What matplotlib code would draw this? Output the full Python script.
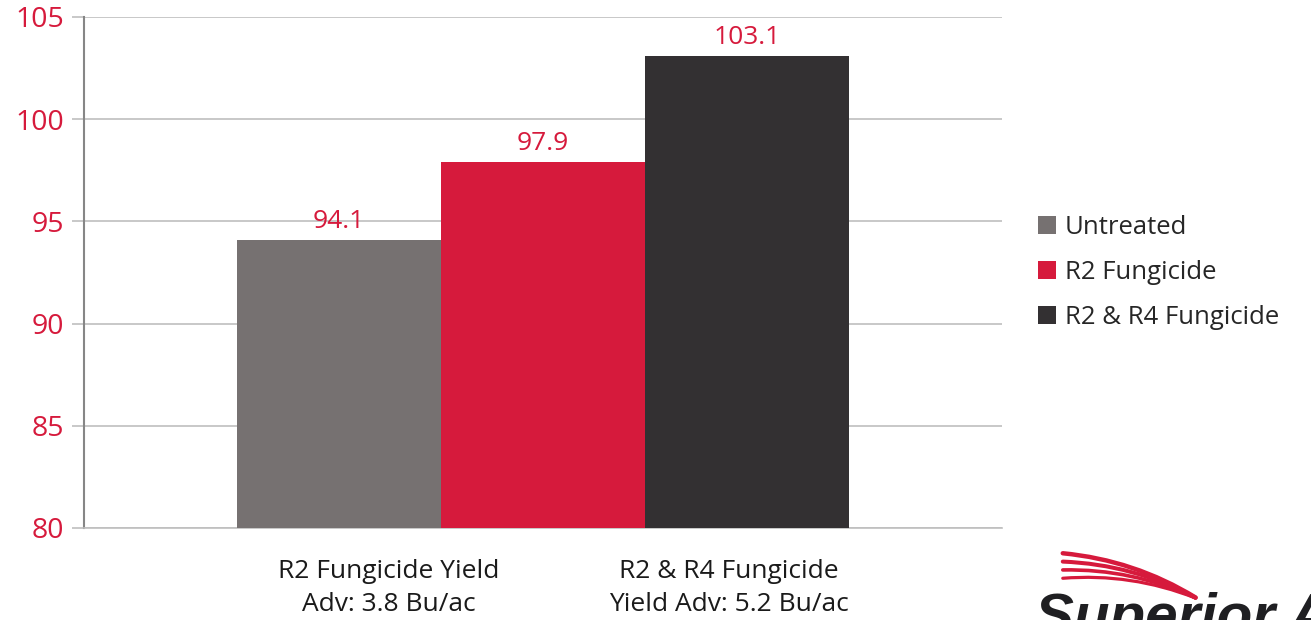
import numpy as np
import matplotlib.pyplot as plt
from matplotlib.patches import FancyArrowPatch

plt.rcParams['font.family'] = ['Open Sans', 'DejaVu Sans']

# Data
series = ['Untreated', 'R2 Fungicide', 'R2 & R4 Fungicide']
values = [94.1, 97.9, 103.1]
colors = ['#767171', '#D61A3C', '#333032']
yticks = [80, 85, 90, 95, 100, 105]
notes = ['R2 Fungicide Yield\nAdv: 3.8 Bu/ac', 'R2 & R4 Fungicide\nYield Adv: 5.2 Bu/ac']

red = '#D61A3C'
grid_c = '#BFBFBF'

fig = plt.figure(figsize=(13.11, 6.2), dpi=100)
ax = fig.add_axes([84 / 1311, 92 / 620, 918 / 1311, 511 / 620])

width = 204 / 918
offsets = (np.arange(len(series)) - 1) * width
for off, v, c, name in zip(offsets, values, colors, series):
    ax.bar(off, v - 80, bottom=80, width=width, color=c, label=name, zorder=3)
    ax.text(off, v + 0.3, f'{v:.1f}', ha='center', va='bottom', color=red, fontsize=19)

ax.set_xlim(-0.5, 0.5)
ax.set_ylim(80, 105)
ax.set_yticks(yticks)
ax.set_yticklabels([str(t) for t in yticks], color=red, fontsize=20.5)
ax.yaxis.grid(True, color=grid_c, linewidth=1.2, zorder=0)
ax.tick_params(axis='y', length=9, width=1.2, color=grid_c, pad=5)
ax.set_xticks([])
for s in ['top', 'right']:
    ax.spines[s].set_visible(False)
ax.spines['bottom'].set_color(grid_c)
ax.spines['bottom'].set_linewidth(1.2)
ax.spines['left'].set_color('#868686')
ax.spines['left'].set_linewidth(1.5)

# yield advantage notes under the bars
fig.text(389 / 1311, 1 - 588 / 620, notes[0], ha='center', va='center',
         fontsize=19, color='#1a1a1a', linespacing=1.45)
fig.text(729 / 1311, 1 - 588 / 620, notes[1], ha='center', va='center',
         fontsize=19, color='#1a1a1a', linespacing=1.45)

leg = ax.legend(loc='center left', bbox_to_anchor=(1.028, 0.5), frameon=False,
                fontsize=18.5, handlelength=0.7, handleheight=0.7,
                handletextpad=0.35, labelspacing=0.78, borderaxespad=0)
for t in leg.get_texts():
    t.set_color('#262626')

# logo in the corner
for i in range(4):
    y0 = 1 - (553 + i * 8.5) / 620
    arrow = FancyArrowPatch((1060 / 1311, y0), (1198 / 1311, 1 - 599 / 620),
                            transform=fig.transFigure, arrowstyle='-',
                            connectionstyle='arc3,rad=-0.12',
                            color=red, linewidth=3.2 - i * 0.3)
    fig.patches.append(arrow)
fig.text(1035 / 1311, 1 - 634 / 620, 'Superior A', fontsize=42, fontweight='bold',
         fontstyle='italic', family='Liberation Sans', color='#1f1f22',
         ha='left', va='baseline')

fig.savefig('out.png', dpi=100)
